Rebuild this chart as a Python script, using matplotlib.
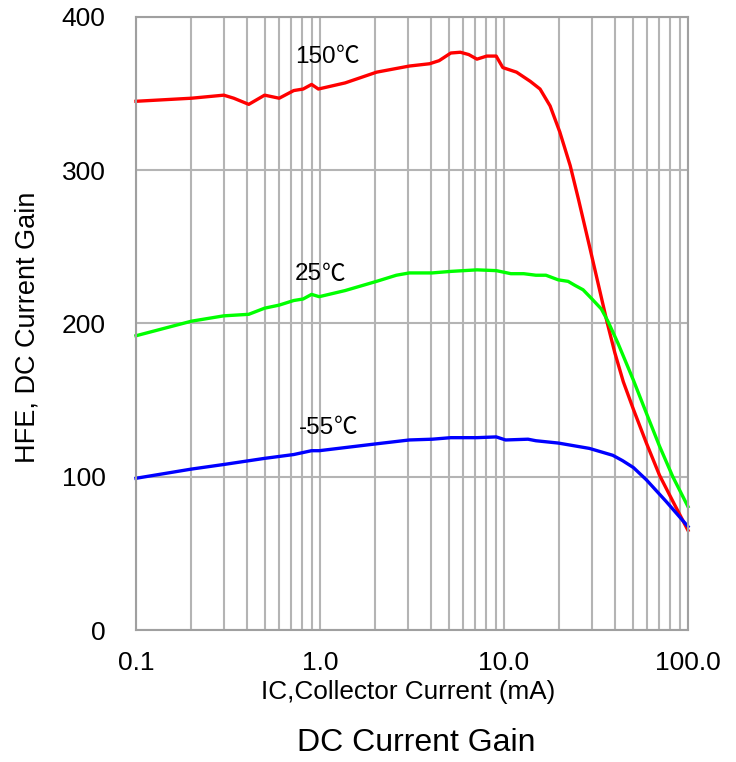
import matplotlib
matplotlib.use("Agg")
import matplotlib.pyplot as plt
from matplotlib.ticker import LogLocator, FixedLocator, FixedFormatter, NullFormatter

plt.rcParams['font.family'] = ['Liberation Sans', 'Noto Sans CJK SC', 'DejaVu Sans']

# 150 C
ic_150 = [0.1, 0.2, 0.3, 0.34, 0.41, 0.5, 0.6, 0.72, 0.81, 0.9, 0.98, 1.37, 2.03, 3.06,
          3.94, 4.44, 5.14, 5.79, 6.43, 7.13, 8.06, 9.07, 9.85, 11.7, 13.9, 15.7, 17.8,
          20.1, 22.9, 25.4, 29.2, 36.3, 40.0, 44.5, 50.5, 59.4, 70.0, 82.7, 100.0]
hfe_150 = [345, 347, 349, 347, 343, 349, 347, 352, 353, 356, 353, 357, 364, 368,
           369.5, 371.5, 376.5, 377, 375.5, 372.5, 374.5, 374.5, 367, 364, 358, 353, 342,
           325, 303, 281, 250, 201, 181, 162, 144, 122, 101, 84, 65]

# 25 C
ic_25 = [0.1, 0.2, 0.3, 0.41, 0.5, 0.6, 0.72, 0.81, 0.9, 0.99, 1.37, 2.03, 2.6, 3.06,
         4.07, 5.14, 7.13, 9.07, 10.9, 12.8, 14.9, 16.9, 19.7, 22.3, 24.2, 26.9, 29.8,
         33.8, 36.7, 41.5, 50.5, 59.4, 70.0, 82.7, 100.0]
hfe_25 = [192, 201.5, 205, 206, 210, 212, 215, 216, 219, 217.5, 221.5, 227.5, 231.5, 233,
          233, 234, 235, 234.5, 232.5, 232.5, 231.5, 231.5, 228.5, 227.5, 225, 222, 216.5,
          209.5, 201.5, 187.5, 163, 141.5, 120, 100, 80.5]

# -55 C
ic_m55 = [0.1, 0.2, 0.3, 0.5, 0.72, 0.9, 0.99, 2.03, 3.06, 4.07, 5.14, 7.13, 9.07,
          10.2, 13.5, 14.9, 19.7, 29.1, 39.0, 44.1, 50.5, 59.4, 75.9, 100.0]
hfe_m55 = [99, 105, 108, 112, 114.5, 117, 117, 121.5, 124, 124.5, 125.5, 125.5, 126,
           124, 124.5, 123.5, 122, 118.5, 114, 110.5, 106, 98, 84, 67.5]

label_nums = ["150", "25", "-55"]
label_unit = "℃"
label_pos = [(0.73, 374), (0.73, 232), (0.77, 132)]
colors = ["#ff0000", "#00ff00", "#0000ff"]

xticks = [0.1, 1.0, 10.0, 100.0]
xticklabels = ["0.1", "1.0", "10.0", "100.0"]
yticks = [0, 100, 200, 300, 400]

fig = plt.figure(figsize=(7.36, 7.62), dpi=100)
ax = fig.add_axes([136/736, 1 - 630/762, (688-136)/736, (630-17)/762])

ax.set_xscale('log')
ax.set_xlim(0.1, 100)
ax.set_ylim(0, 400)

gridc = '#b4b4b4'
ax.xaxis.set_major_locator(FixedLocator(xticks))
ax.xaxis.set_major_formatter(FixedFormatter(xticklabels))
ax.xaxis.set_minor_locator(LogLocator(base=10, subs=range(2, 10)))
ax.xaxis.set_minor_formatter(NullFormatter())
ax.set_yticks(yticks)
ax.grid(True, which='major', axis='both', color=gridc, lw=1.5)
ax.grid(True, which='minor', axis='x', color=gridc, lw=1.5)
ax.set_axisbelow(True)
ax.tick_params(axis='both', which='both', length=0, labelsize=19)
ax.tick_params(axis='y', pad=22)
ax.tick_params(axis='x', pad=15)
for s in ax.spines.values():
    s.set_color('#a0a0a0')
    s.set_linewidth(1.5)

for xs, ys, c in zip([ic_150, ic_25, ic_m55], [hfe_150, hfe_25, hfe_m55], colors):
    ax.plot(xs, ys, color=c, lw=2.4, solid_joinstyle='round', clip_on=False)

for num, (x, y) in zip(label_nums, label_pos):
    t = ax.text(x, y, num, fontsize=17.5, ha='left', va='center', family='Liberation Sans')
    ax.annotate(label_unit, xy=(1.0, 0.5), xycoords=t, ha='left', va='center',
                fontsize=17, family='Noto Sans CJK SC', fontweight='light')

fig.text(408/736, 1 - 692/762, "IC,Collector Current (mA)", fontsize=18.8, ha='center', va='center')
fig.text(416/736, 1 - 743/762, "DC Current Gain", fontsize=23, ha='center', va='center')
fig.text(28/736, 1 - 327/762, "HFE, DC Current Gain", fontsize=19.5, ha='center', va='center', rotation=90)

fig.savefig("out.png", dpi=100)
